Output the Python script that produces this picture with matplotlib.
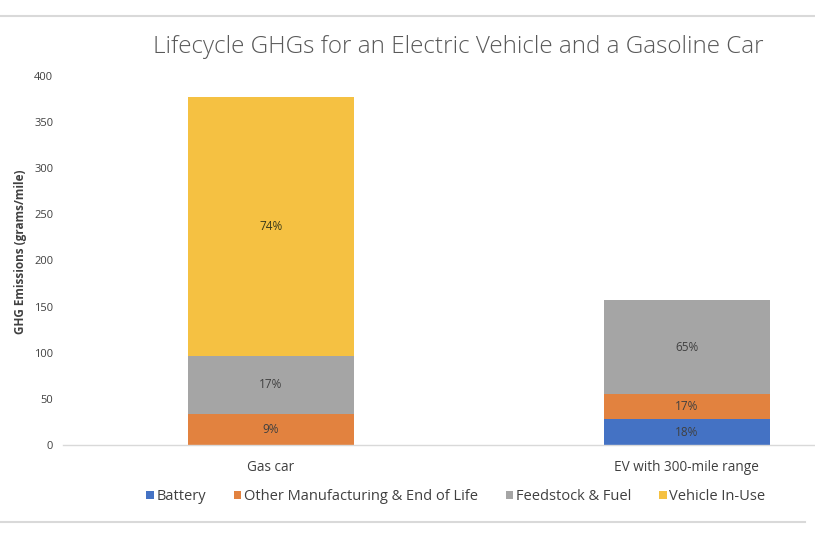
import matplotlib
matplotlib.use("Agg")
import matplotlib.pyplot as plt
from matplotlib.patches import Patch
from matplotlib.lines import Line2D

categories = ["Gas car", "EV with 300-mile range"]
series_names = ["Battery", "Other Manufacturing & End of Life",
                "Feedstock & Fuel", "Vehicle In-Use"]
battery = [0, 28]
other_mfg = [34, 27]
feedstock = [63, 102]
in_use = [280, 0]
labels = {
    "Battery": ["", "18%"],
    "Other Manufacturing & End of Life": ["9%", "17%"],
    "Feedstock & Fuel": ["17%", "65%"],
    "Vehicle In-Use": ["74%", ""],
}
colors = ["#4472C4", "#E2823F", "#A5A5A5", "#F5C142"]
y_ticks = [0, 50, 100, 150, 200, 250, 300, 350, 400]

plt.rcParams["font.family"] = ["Open Sans", "DejaVu Sans"]

W, H = 815, 547
fig = plt.figure(figsize=(W / 100, H / 100), dpi=100)

# axes box in pixel terms (axis line at y=445, 400 tick at y=76)
ax = fig.add_axes([63 / W, (H - 445) / H, (W - 63) / W, (445 - 76) / H])
ax.set_ylim(0, 400)
ax.set_xlim(-0.5, 1.308)

values = [battery, other_mfg, feedstock, in_use]
x = list(range(len(categories)))
bottom = [0] * len(categories)
for name, vals, col in zip(series_names, values, colors):
    ax.bar(x, vals, width=0.4, bottom=bottom, color=col, zorder=2)
    for i, v in enumerate(vals):
        txt = labels[name][i]
        if v > 0 and txt:
            tc = "#3a3a1a" if name == "Vehicle In-Use" else "#404040"
            ax.text(x[i], bottom[i] + v / 2, txt, ha="center", va="center",
                    fontsize=8.5, color=tc)
    bottom = [b + v for b, v in zip(bottom, vals)]

for s in ["top", "right", "left"]:
    ax.spines[s].set_visible(False)
ax.spines["bottom"].set_color("#D9D9D9")
ax.spines["bottom"].set_linewidth(1.0)

ax.set_yticks(y_ticks)
ax.set_yticklabels([str(t) for t in y_ticks], fontsize=8, color="#404040")
ax.tick_params(axis="y", length=0, pad=7)
ax.set_xticks(x)
ax.set_xticklabels(categories, fontsize=9.8, color="#404040")
ax.tick_params(axis="x", length=0, pad=11)

fig.text(21 / W, 1 - 252 / H, "GHG Emissions (grams/mile)", rotation=90,
         ha="center", va="center", fontsize=8.5, fontweight="bold",
         color="#404040")

fig.text(458 / W, 1 - 47 / H,
         "Lifecycle GHGs for an Electric Vehicle and a Gasoline Car",
         ha="center", va="center", fontsize=17.5, fontweight="light",
         color="#595959")

handles = [Patch(facecolor=c, edgecolor="none") for c in colors]
leg = fig.legend(handles, series_names, loc="center",
                 bbox_to_anchor=(456 / W, 1 - 497 / H), ncol=4,
                 frameon=False, fontsize=10.5, handlelength=0.5,
                 handleheight=0.5, handletextpad=0.2, columnspacing=1.9)
for t in leg.get_texts():
    t.set_color("#404040")

# chart border lines top and bottom
fig.add_artist(Line2D([0, 1], [1 - 16 / H, 1 - 16 / H],
                      transform=fig.transFigure, color="#D9D9D9", lw=1.5))
fig.add_artist(Line2D([0, 805 / W], [1 - 522 / H, 1 - 522 / H],
                      transform=fig.transFigure, color="#D9D9D9", lw=1.5))

fig.savefig("out.png", dpi=100)
